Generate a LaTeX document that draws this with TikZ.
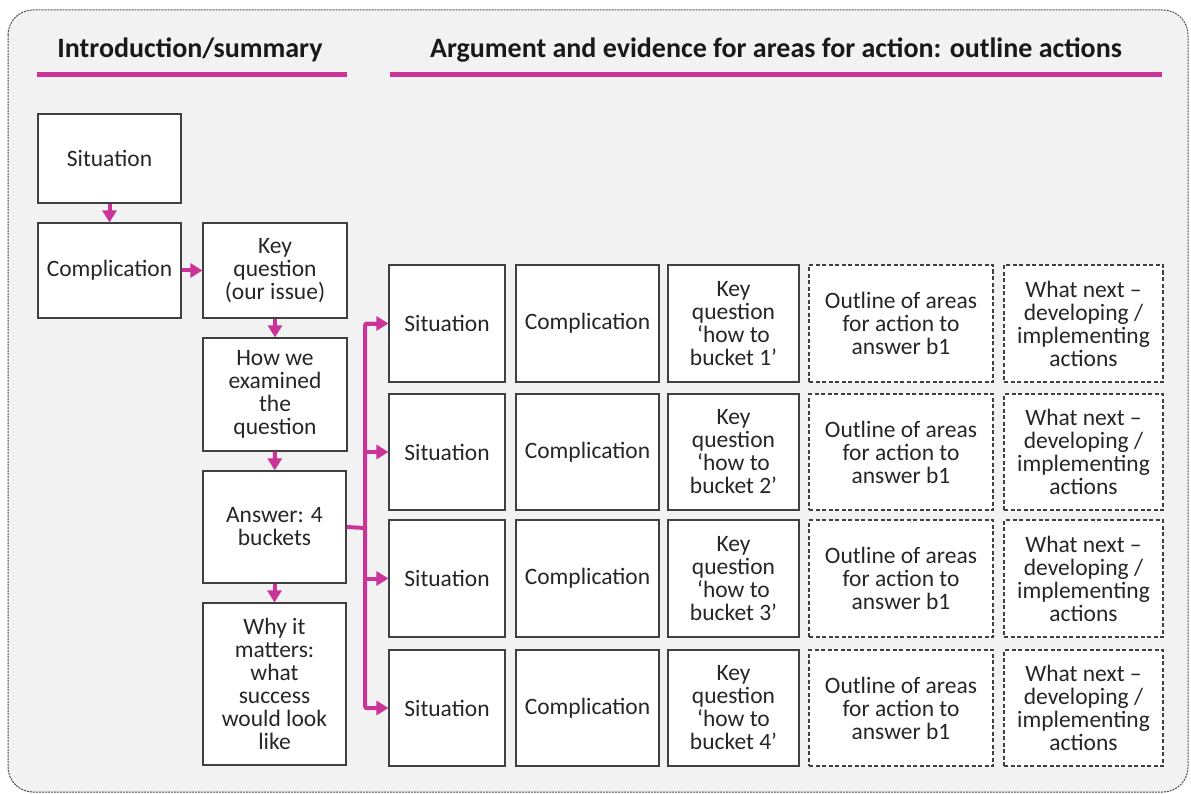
\documentclass[tikz,border=0pt]{standalone}
\usepackage{fontspec}
\setmainfont{Carlito}
\usetikzlibrary{arrows.meta}

\definecolor{pinkline}{RGB}{204,51,153}
\definecolor{panel}{RGB}{242,242,242}

\tikzset{
  box/.style={draw=black!75, line width=1.2pt, fill=white, align=center, inner sep=2pt,
    text=black!85, font=\fontsize{23.5}{23}\selectfont},
  dashbox/.style={box, dash pattern=on 4pt off 2.5pt},
  link/.style={draw=pinkline, line width=4pt, -{Triangle[length=12pt,width=14pt]}},
  bus/.style={draw=pinkline, line width=4pt},
  heading/.style={font=\bfseries\fontsize{28}{30}\selectfont, text=black!90},
}

\begin{document}
\begin{tikzpicture}[x=1pt,y=-1pt]
  \useasboundingbox (0,0) rectangle (1191,794);

  % panel
  \draw[black!70, line width=1pt, dash pattern=on 2pt off 1pt, fill=panel, rounded corners=25pt]
    (8,10) rectangle (1188,792);

  % headings
  \node[heading] (hleft) at (190,50) {Introduction/summary};
  \node[heading] (hright) at (776,50) {Argument and evidence for areas for action: outline actions};
  \draw[pinkline, line width=5pt] (37,75) -- (347,75);
  \draw[pinkline, line width=5pt] (390,75) -- (1162,75);

  % introduction column
  \node[box, minimum width=143pt, minimum height=89pt] (sit) at (109.5,158.5) {Situation};
  \node[box, minimum width=143pt, minimum height=95pt] (comp) at (109.5,270.5) {Complication};
  \node[box, minimum width=144pt, minimum height=95pt] (keyq) at (275,270.5) {Key\\question\\(our issue)};
  \node[box, minimum width=144pt, minimum height=113pt] (how) at (275,394.5) {How we\\examined\\the\\question};
  \node[box, minimum width=143pt, minimum height=112pt] (ans) at (274.5,527) {Answer: 4\\buckets};
  \node[box, minimum width=143pt, minimum height=162pt] (why) at (274.5,684) {Why it\\matters:\\what\\success\\would look\\like};

  \draw[link] (sit) -- (comp);
  \draw[link] (comp) -- (keyq);
  \draw[link] (keyq) -- (how);
  \draw[link] (how) -- (ans);
  \draw[link] (ans) -- (why);

  % bucket rows
  \foreach \r/\y/\h in {1/323.5/117, 2/452/116, 3/578.5/117, 4/708/116}{
    \node[box, minimum width=116pt, minimum height=\h pt] (s\r) at (447,\y) {Situation};
    \node[box, minimum width=143pt, minimum height=\h pt] (c\r) at (587.5,\y) {Complication};
    \node[box, minimum width=131pt, minimum height=\h pt] (k\r) at (733.5,\y) {Key\\question\\‘how to\\bucket \r’};
    \node[dashbox, minimum width=184pt, minimum height=\h pt] (o\r) at (901,\y) {Outline of areas\\for action to\\answer b1};
    \node[dashbox, minimum width=159pt, minimum height=\h pt] (w\r) at (1083.5,\y) {What next --\\developing /\\implementing\\actions};
  }

  % branching to buckets
  \coordinate (fork) at (365,528);
  \draw[bus] (ans.east) -- (fork);
  \draw[bus, rounded corners=2pt] ([xshift=10pt]fork |- s1.west) -- (fork |- s1.west) -- (fork |- s4.west) -- ([xshift=10pt]fork |- s4.west);
  \foreach \r in {1,...,4}
    \draw[link] (fork |- s\r.west) -- (s\r.west);
\end{tikzpicture}
\end{document}
